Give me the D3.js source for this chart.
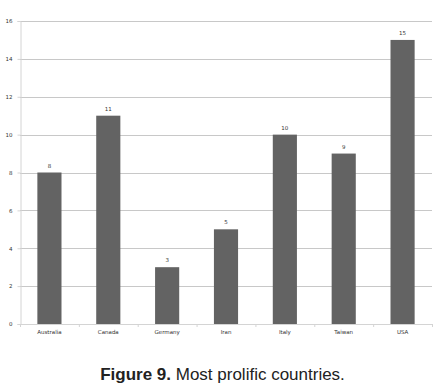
<!DOCTYPE html>
<meta charset="utf-8">
<style>
body { margin: 0; background: #fff; }
.tick text, .val, .cat { font: 5.5px "DejaVu Sans", sans-serif; fill: #333; }
.grid line { stroke: #c8c8c8; stroke-width: 1px; }
.caption { font-family: "Liberation Sans Narrow", "Liberation Sans", sans-serif; font-size: 17px; fill: #222; }
</style>
<body>
<script src="https://cdn.jsdelivr.net/npm/d3@7"></script>
<script>
// data
var countries = ["Australia", "Canada", "Germany", "Iran", "Italy", "Taiwan", "USA"];
var counts = [8, 11, 3, 5, 10, 9, 15];
var yTicks = [0, 2, 4, 6, 8, 10, 12, 14, 16];

var width = 435, height = 387;
var margin = {top: 21, left: 20, right: 3, bottom: 63};

var svg = d3.select("body").append("svg")
    .attr("width", width)
    .attr("height", height);

var x = d3.scaleBand()
    .domain(countries)
    .range([margin.left, width - margin.right])
    .paddingInner(0.59)
    .paddingOuter(0.295);

var y = d3.scaleLinear()
    .domain([0, 16])
    .range([height - margin.bottom, margin.top]);

// grid lines
svg.append("g")
    .attr("class", "grid")
  .selectAll("line")
  .data(yTicks.slice(1))
  .enter().append("line")
    .attr("x1", margin.left)
    .attr("x2", width - margin.right)
    .attr("y1", function(d) { return Math.round(y(d)) + 0.5; })
    .attr("y2", function(d) { return Math.round(y(d)) + 0.5; });

// y axis
var yAxis = svg.append("g")
    .attr("transform", "translate(" + (margin.left + 0.5) + ",0)")
    .call(d3.axisLeft(y).tickValues(yTicks).tickSize(3).tickPadding(5));
yAxis.select(".domain").attr("stroke", "#d4d4d4");
yAxis.selectAll(".tick line").attr("stroke", "#d4d4d4");

// bars
svg.selectAll(".bar")
  .data(counts)
  .enter().append("rect")
    .attr("class", "bar")
    .attr("x", function(d, i) { return x(countries[i]); })
    .attr("width", x.bandwidth())
    .attr("y", function(d) { return y(d); })
    .attr("height", function(d) { return y(0) - y(d); })
    .attr("fill", "#636363");

// value labels
svg.selectAll(".val")
  .data(counts)
  .enter().append("text")
    .attr("class", "val")
    .attr("x", function(d, i) { return x(countries[i]) + x.bandwidth() / 2; })
    .attr("y", function(d) { return y(d) - 5; })
    .attr("text-anchor", "middle")
    .text(function(d) { return d; });

// x axis
var step = x.step();
var xg = svg.append("g");
xg.append("line")
    .attr("x1", margin.left)
    .attr("x2", width - margin.right)
    .attr("y1", Math.round(y(0)) + 0.5)
    .attr("y2", Math.round(y(0)) + 0.5)
    .attr("stroke", "#d4d4d4");
xg.selectAll(".xt")
  .data(d3.range(countries.length + 1))
  .enter().append("line")
    .attr("x1", function(i) { return margin.left + i * step + 0.5; })
    .attr("x2", function(i) { return margin.left + i * step + 0.5; })
    .attr("y1", y(0))
    .attr("y2", y(0) + 3)
    .attr("stroke", "#d4d4d4");
xg.selectAll(".cat")
  .data(countries)
  .enter().append("text")
    .attr("class", "cat")
    .attr("x", function(d) { return x(d) + x.bandwidth() / 2; })
    .attr("y", y(0) + 10)
    .attr("text-anchor", "middle")
    .text(function(d) { return d; });

yAxis.selectAll(".tick text").attr("class", null).style("font", "5.5px 'DejaVu Sans', sans-serif").attr("fill", "#333");

// caption
var cap = svg.append("text")
    .attr("class", "caption")
    .attr("x", width / 2 + 5)
    .attr("y", 380)
    .attr("text-anchor", "middle");
cap.append("tspan").attr("font-weight", "bold").text("Figure 9.");
cap.append("tspan").text(" Most prolific countries.");
</script>
</body>
